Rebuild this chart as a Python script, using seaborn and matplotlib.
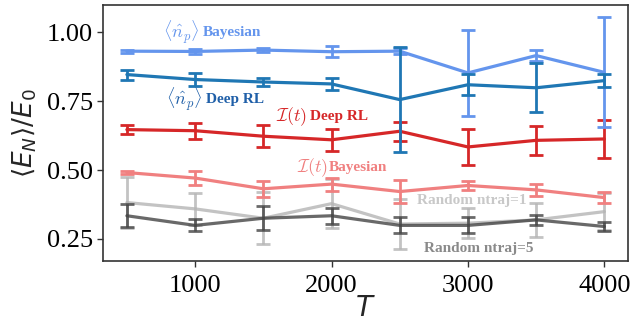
import numpy as np
import pandas as pd
import matplotlib
matplotlib.use("Agg")
import matplotlib.pyplot as plt
from matplotlib.transforms import offset_copy
import seaborn as sns

T = [500, 1000, 1500, 2000, 2500, 3000, 3500, 4000]

np_bayes = [0.932, 0.931, 0.936, 0.930, 0.932, 0.853, 0.916, 0.855]
np_bayes_err = [0.006, 0.009, 0.007, 0.019, 0.012, 0.157, 0.019, 0.200]

np_rl = [0.847, 0.829, 0.820, 0.813, 0.756, 0.810, 0.799, 0.825]
np_rl_err = [0.018, 0.025, 0.016, 0.023, 0.190, 0.038, 0.089, 0.024]

it_rl = [0.647, 0.643, 0.623, 0.610, 0.641, 0.584, 0.608, 0.613]
it_rl_err = [0.016, 0.029, 0.039, 0.040, 0.035, 0.064, 0.053, 0.070]

it_bayes = [0.491, 0.471, 0.432, 0.449, 0.422, 0.444, 0.428, 0.400]
it_bayes_err = [0.004, 0.024, 0.029, 0.024, 0.041, 0.015, 0.023, 0.021]

rand1 = [0.382, 0.359, 0.325, 0.378, 0.304, 0.307, 0.319, 0.349]
rand1_err = [0.093, 0.058, 0.094, 0.090, 0.092, 0.055, 0.062, 0.066]

rand5 = [0.334, 0.299, 0.325, 0.334, 0.299, 0.299, 0.319, 0.295]
rand5_err = [0.042, 0.022, 0.044, 0.030, 0.029, 0.029, 0.019, 0.015]

series = [
    ("rand1", rand1, rand1_err, "#b4b4b4", 0.8),
    ("rand5", rand5, rand5_err, "#444444", 0.8),
    ("it_bayes", it_bayes, it_bayes_err, "#f08080", 1.0),
    ("it_rl", it_rl, it_rl_err, "#d62728", 1.0),
    ("np_bayes", np_bayes, np_bayes_err, "#6495ed", 1.0),
    ("np_rl", np_rl, np_rl_err, "#1f77b4", 1.0),
]

sns.set_style("ticks")
plt.rcParams['font.family'] = ['Liberation Serif', 'DejaVu Sans']

fig = plt.figure(figsize=(6.32, 3.29), dpi=100)
ax = fig.add_axes([0.163, 0.207, 0.831, 0.778])

for name, y, err, col, a in series:
    df = pd.DataFrame({"T": T, "v": y})
    sns.lineplot(data=df, x="T", y="v", color=col, alpha=a, lw=2.3, ax=ax)
    ax.errorbar(T, y, yerr=err, fmt="none", ecolor=col, alpha=a,
                elinewidth=2, capsize=5, capthick=2)

ax.set_xlim(325, 4175)
ax.set_ylim(0.17, 1.10)
ax.set_xticks([1000, 2000, 3000, 4000])
ax.set_yticks([0.25, 0.50, 0.75, 1.00])
ax.set_yticklabels(["0.25", "0.50", "0.75", "1.00"])
ax.tick_params(labelsize=19, width=1, length=4, pad=3,
               colors="#333333", labelcolor="black")
ax.tick_params(axis="x", pad=6)
for s in ax.spines.values():
    s.set_color("#333333")
    s.set_linewidth(1.2)

ax.set_xlabel(r"$T$", fontsize=20, labelpad=0)
ax.set_ylabel(r"$\langle E_N\rangle/E_0$", fontsize=19, labelpad=6)


def label(x, y, math, word, color, gap=3):
    fig.canvas.draw()
    t = ax.text(x, y, math, color=color, fontsize=13, math_fontfamily="cm",
                va="center", ha="left")
    bb = t.get_window_extent(renderer=fig.canvas.get_renderer())
    if math:
        tr = offset_copy(ax.transData, fig=fig, x=bb.width + gap, y=0, units="dots")
    else:
        tr = ax.transData
    ax.text(x, y, word, color=color, fontsize=11, fontweight="bold",
            va="center", ha="left", transform=tr)


label(765, 1.000, r"$\langle\hat{n}_p\rangle$", "Bayesian", "#6495ed")
label(790, 0.757, r"$\langle\hat{n}_p\rangle$", "Deep RL", "#1f5fa8")
label(1590, 0.693, r"$\mathcal{I}(t)$", "Deep RL", "#d62728")
label(1750, 0.510, r"$\mathcal{I}(t)$", "Bayesian", "#f08080", gap=0)
label(2630, 0.391, "", "Random ntraj=1", "#c8c8c8")
label(2675, 0.216, "", "Random ntraj=5", "#8a8a8a")

fig.savefig("out.png", dpi=100)
